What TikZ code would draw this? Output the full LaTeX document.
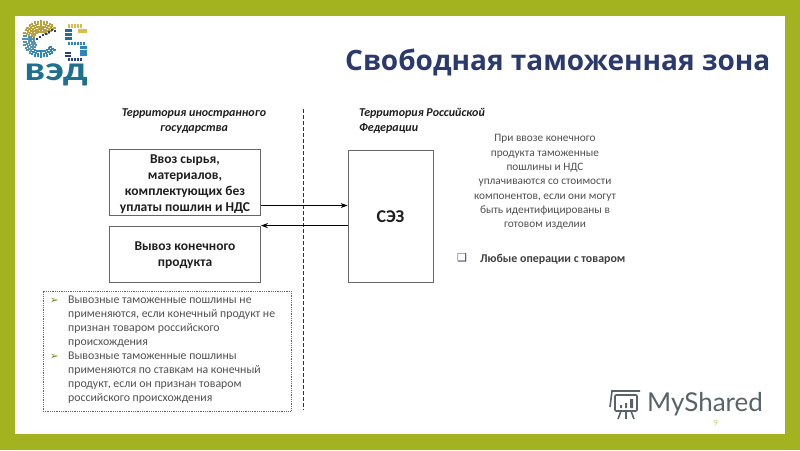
\documentclass[tikz,border=0pt]{standalone}
\usepackage{fontspec}
\setmainfont{Carlito}
\newfontfamily\titlefont{Open Sans}
\newfontfamily\markfont{Lato}
\newfontfamily\symfont{DejaVu Sans}
\usetikzlibrary{arrows.meta,calc}
\definecolor{framegreen}{HTML}{A3B320}
\definecolor{titleblue}{HTML}{2A3A6C}
\definecolor{boxline}{HTML}{666666}
\definecolor{bodygrey}{HTML}{505050}
\definecolor{inkdark}{HTML}{1E1E1E}
\definecolor{logoteal}{HTML}{1F6F8F}
\definecolor{markgrey}{HTML}{5A6468}
\definecolor{logoyellow}{HTML}{D8BE48}
\definecolor{logoblue}{HTML}{2F86BD}
\definecolor{logonavy}{HTML}{27407F}
\tikzset{
 x=1pt,y=-1pt,
 flowbox/.style={draw=boxline,line width=0.8pt,fill=white,inner sep=0pt},
 boxlabel/.style={align=center,font=\fontsize{13.5}{16}\selectfont\bfseries,text=inkdark,inner sep=0pt},
 terrlabel/.style={font=\fontsize{12}{14.5}\selectfont\bfseries\itshape,text=inkdark,inner sep=0pt},
 flowarrow/.style={draw=black,line width=1pt,-{Stealth[length=7pt,width=5pt]}},
 bodytext/.style={text=bodygrey,inner sep=0pt,font=\fontsize{11.3}{14.3}\selectfont},
 dutytext/.style={text=bodygrey,inner sep=0pt,font=\fontsize{11.8}{14}\selectfont},
 tipmark/.style={anchor=west,inner sep=0pt,text=framegreen!70!black,font=\symfont\fontsize{10}{10}\selectfont}
}
\begin{document}
\begin{tikzpicture}
\useasboundingbox (0,0) rectangle (800,450);
% frame
\fill[framegreen] (0,0) rectangle (800,450);
\fill[white] (15,16) rectangle (785,434);
% logo globe
\foreach \r in {7.5,10,12.5,15,17.5}{
  \foreach \a in {200,210,...,320}{ \fill[logoyellow!85!black] ({41+\r*cos(\a)-1.1},{39+\r*sin(\a)-1.1}) rectangle ++(2.2,2.2); }
  \foreach \a in {130,140,...,190}{ \fill[logoteal!75!white] ({41+\r*cos(\a)-1.1},{39+\r*sin(\a)-1.1}) rectangle ++(2.2,2.2); }
}
\foreach \r in {12.5,15,17.5}{
  \foreach \a in {40,50,...,120}{ \fill[logoblue] ({41+\r*cos(\a)-1.1},{39+\r*sin(\a)-1.1}) rectangle ++(2.2,2.2); }
}
\foreach \xx/\yy in {36/38,39/36,42/34,45/33,48/31,51/29,54/30}{ \fill[logonavy] (\xx,\yy) rectangle ++(2,2); }
% logo squares
\foreach \xx in {68,71,74,77,80}{ \fill[logoyellow] (\xx,24) rectangle ++(2.3,4); }
\foreach \yy in {29}{ \fill[logoyellow] (78,\yy) rectangle ++(9,4); }
\foreach \yy in {29,33,37}{ \fill[logoteal] (65,\yy) rectangle ++(6.5,3); }
\foreach \xx in {68,71,74,77,80,83}{ \fill[logoblue] (\xx,42) rectangle ++(2.3,3); }
\foreach \yy in {46,50,53}{ \fill[logoblue] (80,\yy) rectangle ++(7,3); }
\foreach \yy in {52,55}{ \fill[logonavy] (65,\yy) rectangle ++(6,2.4); }
\foreach \xx in {68,71,74,77,80}{ \fill[logonavy] (\xx,57.5) rectangle ++(2.3,3.5); }
\node[text=logoteal,inner sep=0pt,xscale=1.25,font=\fontsize{34}{34}\selectfont\bfseries] (logotext) at (56,75) {вэд};
% title
\node[anchor=west,text=titleblue,inner sep=0pt,font=\titlefont\fontsize{28}{30}\selectfont\bfseries] (title) at (345,62) {Свободная таможенная зона};
% territory labels
\node[terrlabel,align=center] (foreign) at (194,121) {Территория иностранного\\государства};
\node[terrlabel,align=left,anchor=west] (russia) at (359,121) {Территория Российской\\Федерации};
% divider
\coordinate (divtop) at (303.5,109);
\coordinate (divbot) at (303.5,410);
\draw[black!80,line width=.6pt,dash pattern=on 4pt off 2pt] (divtop) -- (divbot);
% boxes
\node[flowbox,minimum width=151pt,minimum height=66pt] (importbox) at (185,182.5) {};
\node[boxlabel] (importtext) at (185,184) {Ввоз сырья,\\материалов,\\комплектующих без\\уплаты пошлин и НДС};
\node[flowbox,minimum width=151pt,minimum height=56pt] (exportbox) at (185,254) {};
\node[boxlabel] (exporttext) at (185,255) {Вывоз конечного\\продукта};
\node[flowbox,minimum width=85pt,minimum height=132pt] (sez) at (390.5,216) {};
\node[boxlabel,font=\fontsize{18}{20}\selectfont\bfseries] (seztext) at (390.5,217) {СЭЗ};
% arrows
\draw[flowarrow] ([yshift=-23pt]importbox.east) -- ([yshift=10.5pt]sez.west);
\draw[flowarrow] (sez.west |- exportbox.north) -- (exportbox.north east);
% right text
\node[bodytext,align=center] (note) at (545,182) {При ввозе конечного\\продукта таможенные\\пошлины и НДС\\уплачиваются со стоимости\\компонентов, если они могут\\быть идентифицированы в\\готовом изделии};
\node[anchor=west,inner sep=0pt,text=titleblue,font=\symfont\fontsize{11}{11}\selectfont] (qmark) at (457,258) {❑};
\node[anchor=west,inner sep=0pt,text=inkdark!85,font=\fontsize{11.9}{14}\selectfont\bfseries] (anyops) at (480,259) {Любые операции с товаром};
% dotted box
\node[draw=boxline,line width=.8pt,densely dotted,minimum width=248pt,minimum height=120pt,inner sep=0pt] (dutybox) at (167,351) {};
\node[dutytext,anchor=north west,align=left] (duties) at (68,296) {Вывозные таможенные пошлины не\\применяются, если конечный продукт не\\признан товаром российского\\происхождения\\Вывозные таможенные пошлины\\применяются по ставкам на конечный\\продукт, если он признан товаром\\российского происхождения};
\node[tipmark] (tipa) at (50,301) {➢};
\node[tipmark] (tipb) at (50,357) {➢};
% MyShared mark
\node[anchor=west,inner sep=0pt,text=markgrey,font=\markfont\fontsize{26}{26}\selectfont] (mark) at (647,404) {MyShared};
\draw[markgrey,line width=1.6pt,line join=round,rounded corners=1pt] (611,391) -- (640,391) (612,391) -- (610,407) (615,395) rectangle (637,411);
\fill[markgrey] (620,405) rectangle ++(2,3) (625,403) rectangle ++(2,5) (630,399) rectangle ++(3,9);
\draw[markgrey,line width=1.6pt] (621,411) -- (618,419) (626,411) -- (626,419) (631,411) -- (634,419);
% page number
\node[inner sep=0pt,text=framegreen!70!white,font=\fontsize{8}{8}\selectfont] (pageno) at (716,423) {9};
\end{tikzpicture}
\end{document}
